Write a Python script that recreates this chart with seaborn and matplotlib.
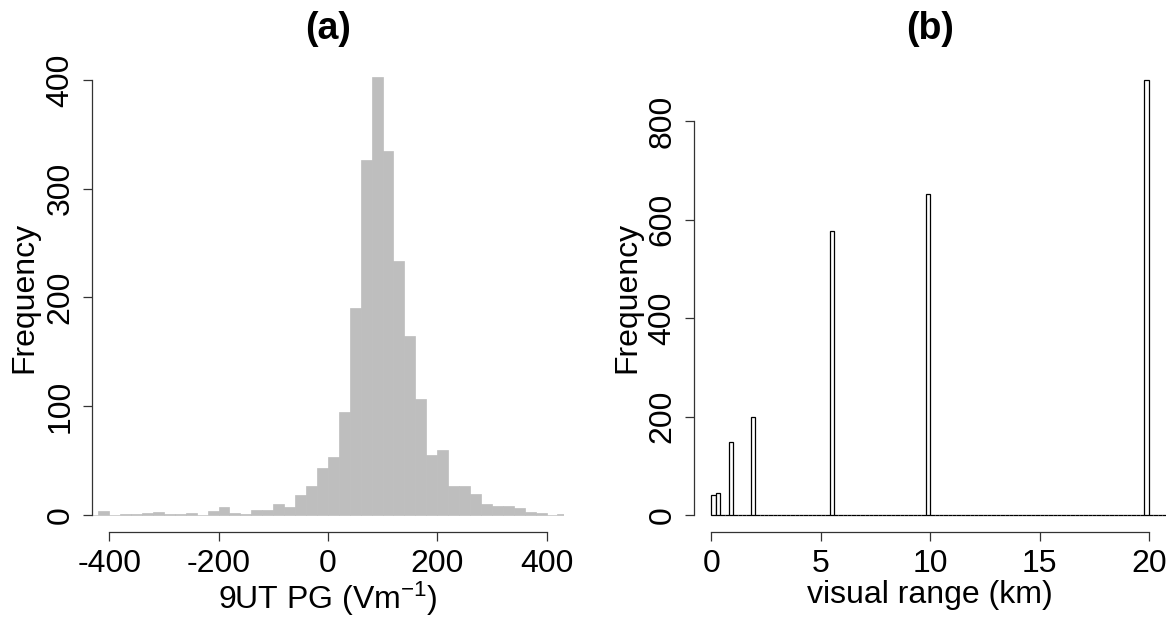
import numpy as np
import pandas as pd
import matplotlib
matplotlib.use("Agg")
import matplotlib.pyplot as plt
import seaborn as sns

# ---- data ----
# (a) 9UT potential gradient, 20 V/m bins starting at -440
pg_bin_left = np.arange(-440, 440, 20)
pg_counts = [0, 4, 0, 1, 1, 2, 3, 1, 1, 2,
             0, 4, 7, 2, 1, 5, 5, 10, 7, 18,
             27, 43, 53, 95, 190, 326, 403, 335, 234, 165,
             107, 55, 60, 27, 27, 19, 10, 8, 8, 6,
             3, 2, 0, 1]
pg_width = 20

# (b) visual range, 0.2 km bins (only non-empty bins listed)
vr_bin_left = [0.0, 0.2, 0.8, 1.8, 5.4, 9.8, 19.8]
vr_counts = [40, 44, 149, 199, 578, 652, 884]
vr_width = 0.2

sns.set_style("ticks")
plt.rcParams['font.family'] = ['Liberation Sans', 'DejaVu Sans']
plt.rcParams['mathtext.fontset'] = 'custom'
plt.rcParams['mathtext.rm'] = 'Liberation Sans'
plt.rcParams['mathtext.it'] = 'Liberation Sans:italic'
plt.rcParams['mathtext.bf'] = 'Liberation Sans:bold'
plt.rcParams['axes.unicode_minus'] = False
plt.rcParams['text.color'] = 'black'
plt.rcParams['axes.labelcolor'] = 'black'

AX_COL = '#333333'
FS = 23

df_pg = pd.DataFrame({'pg': pg_bin_left + pg_width / 2, 'n': pg_counts})
df_vr = pd.DataFrame({'vr': np.array(vr_bin_left) + vr_width / 2, 'n': vr_counts})

fig = plt.figure(figsize=(11.76, 6.19), dpi=100)
ax1 = fig.add_axes([0.078, 0.1399, 0.4016, 0.759])
ax2 = fig.add_axes([0.5901, 0.1399, 0.4017, 0.759])

# panel (a)
pg_edges = [float(v) for v in pg_bin_left] + [float(pg_bin_left[-1] + pg_width)]
sns.histplot(data=df_pg, x='pg', weights='n', bins=pg_edges,
             color='#BEBEBE', edgecolor='#BEBEBE', linewidth=0.5, alpha=1, ax=ax1)
ax1.set_xlim(-432, 432)
ax1.set_ylim(-16, 416)
ax1.set_xticks([-400, -200, 0, 200, 400])
ax1.set_yticks([0, 100, 200, 300, 400])
ax1.spines['left'].set_bounds(0, 400)
ax1.spines['bottom'].set_bounds(-400, 400)
ax1.set_xlabel(r'9UT PG (Vm$^{-1}$)', fontsize=FS, labelpad=1)
ax1.set_ylabel('Frequency', fontsize=FS, labelpad=4)
ax1.set_title('(a)', fontsize=27, fontweight='bold', pad=17, color='black')

# panel (b)
vr_edges = [round(i * vr_width, 1) for i in range(106)]
sns.histplot(data=df_vr, x='vr', weights='n', bins=vr_edges,
             color='white', edgecolor='black', linewidth=0.9, alpha=1, ax=ax2)
ax2.set_xlim(-0.8, 20.8)
ax2.set_ylim(-35.4, 919.4)
ax2.set_xticks([0, 5, 10, 15, 20])
ax2.set_yticks([0, 200, 400, 600, 800])
ax2.spines['left'].set_bounds(0, 800)
ax2.spines['bottom'].set_bounds(0, 20)
ax2.set_xlabel('visual range (km)', fontsize=FS, labelpad=1)
ax2.set_ylabel('Frequency', fontsize=FS, labelpad=4)
ax2.set_title('(b)', fontsize=27, fontweight='bold', pad=17, color='black')

for ax in (ax1, ax2):
    sns.despine(ax=ax)
    for s in ('left', 'bottom'):
        ax.spines[s].set_color(AX_COL)
        ax.spines[s].set_linewidth(0.9)
    ax.tick_params(axis='both', length=6.8, width=0.9, color=AX_COL,
                   labelsize=FS, pad=5, labelcolor='black')
    for lab in ax.get_yticklabels():
        lab.set_rotation(90)
        lab.set_va('center')

fig.savefig('out.png', dpi=100)
